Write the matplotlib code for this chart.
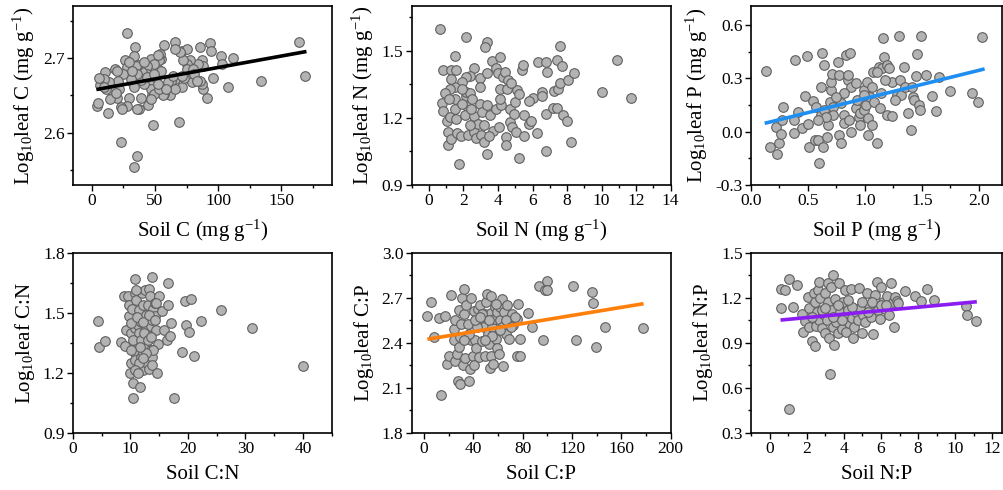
import matplotlib
matplotlib.use("Agg")
import matplotlib.pyplot as plt
import numpy as np
from matplotlib.ticker import MultipleLocator, FormatStrFormatter

plt.rcParams['font.family'] = ['Liberation Serif', 'DejaVu Serif']
plt.rcParams['mathtext.fontset'] = 'custom'
plt.rcParams['mathtext.rm'] = 'Liberation Serif'
plt.rcParams['mathtext.it'] = 'Liberation Serif:italic'
plt.rcParams['mathtext.default'] = 'regular'
plt.rcParams['axes.unicode_minus'] = False

# ---------------- data ----------------
soilC = [27.5, 34, 57.5, 65.5, 71, 75, 85.5, 93.5, 94.5, 164, 169, 133.7, 107.7, 111.8, 102.4, 103, 96, 91, 88, 87,
         86, 87, 88, 84, 77.5, 75, 72, 69.5, 77.5, 79, 71, 68.7, 65.5, 63, 61.5, 57, 55, 54, 52, 53.5,
         55, 51, 49.5, 47.5, 48, 47, 49.5, 44, 44, 46, 47, 44.5, 41.5, 40, 39, 36.5, 35, 36, 37.5, 36,
         33.5, 32, 33, 31, 29.5, 27.5, 26, 28, 25, 23, 21.5, 20.5, 19.5, 18, 16, 14.7, 13.4, 11.5, 10.7, 9.4,
         6.7, 5.3, 4, 4.8, 12.6, 22.7, 35.5, 33, 24, 52, 56, 49.5, 53.5, 60, 64, 73, 75, 80, 81, 83,
         65.5, 41.5, 44, 47, 39, 29.5, 32, 20, 18.7, 9.4, 65.5, 49.5, 71, 58.5, 52]
leafC = [2.734, 2.715, 2.718, 2.722, 2.710, 2.713, 2.715, 2.720, 2.709, 2.722, 2.676, 2.670, 2.661, 2.700, 2.703, 2.692, 2.673, 2.647, 2.659, 2.665,
         2.670, 2.697, 2.690, 2.692, 2.697, 2.692, 2.698, 2.708, 2.672, 2.668, 2.661, 2.614, 2.672, 2.670, 2.650, 2.652, 2.699, 2.706, 2.686, 2.697,
         2.683, 2.670, 2.661, 2.650, 2.610, 2.699, 2.692, 2.690, 2.679, 2.664, 2.659, 2.637, 2.665, 2.682, 2.671, 2.691, 2.689, 2.679, 2.632, 2.632,
         2.703, 2.668, 2.661, 2.672, 2.646, 2.636, 2.697, 2.688, 2.679, 2.635, 2.659, 2.670, 2.646, 2.686, 2.656, 2.645, 2.668, 2.659, 2.682, 2.672,
         2.664, 2.673, 2.636, 2.640, 2.626, 2.587, 2.569, 2.554, 2.632, 2.704, 2.650, 2.652, 2.659, 2.668, 2.676, 2.674, 2.686, 2.685, 2.679, 2.670,
         2.713, 2.695, 2.675, 2.645, 2.647, 2.695, 2.683, 2.683, 2.654, 2.661, 2.659, 2.679, 2.676, 2.659, 2.665]
lineC_x = [3.5, 170]
lineC_y = [2.658, 2.709]

soilN = [0.66, 2.12, 3.35, 3.25, 7.6, 1.5, 0.8, 1.3, 1.55, 2.63, 2.4, 2.17, 1.9, 1.5, 1.23, 0.9, 0.75, 0.8, 1.04, 1.2,
         1.12, 1.08, 1.27, 1.5, 1.5, 1.57, 1.6, 1.74, 1.83, 2.12, 2.17, 2.2, 2.06, 2.25, 2.4, 2.5, 2.63, 2.6, 2.74, 2.82,
         2.97, 2.97, 2.93, 3.06, 3.0, 3.16, 3.2, 3.35, 3.38, 3.54, 3.69, 3.63, 3.88, 4.1, 4.02, 4.14, 3.91, 4.04, 4.2, 4.29,
         4.38, 4.57, 4.5, 4.44, 4.44, 4.67, 4.7, 4.82, 4.95, 5.0, 5.08, 5.24, 5.04, 5.24, 5.39, 5.46, 5.52, 5.52, 5.8, 5.9,
         6.03, 6.28, 6.33, 6.52, 6.56, 6.79, 6.84, 6.79, 6.75, 7.17, 7.4, 7.27, 7.4, 7.5, 7.6, 7.7, 7.75, 8.03, 8.0, 8.22,
         8.4, 10.0, 10.87, 11.72, 1.3, 1.93, 2.4, 3.35, 3.5, 1.18, 1.93, 2.44, 4.76, 5.8, 4.1]
leafN = [1.596, 1.560, 1.537, 1.516, 1.519, 1.475, 1.412, 1.412, 1.412, 1.421, 1.387, 1.384, 1.360, 1.340, 1.331, 1.310, 1.265, 1.232, 1.184, 1.203,
         1.137, 1.081, 1.107, 1.284, 1.240, 1.196, 1.132, 0.994, 1.119, 1.299, 1.316, 1.254, 1.213, 1.122, 1.313, 1.284, 1.210, 1.137, 1.110, 1.174,
         1.376, 1.340, 1.262, 1.225, 1.122, 1.090, 1.166, 1.037, 1.257, 1.215, 1.140, 1.453, 1.424, 1.472, 1.399, 1.328, 1.240, 1.159, 1.257, 1.384,
         1.404, 1.369, 1.331, 1.115, 1.081, 1.240, 1.181, 1.159, 1.218, 1.272, 1.325, 1.306, 1.137, 1.022, 1.416, 1.438, 1.213, 1.119, 1.174, 1.188,
         1.291, 1.132, 1.449, 1.316, 1.296, 1.449, 1.404, 1.218, 1.051, 1.243, 1.243, 1.321, 1.460, 1.331, 1.357, 1.431, 1.213, 1.369, 1.185, 1.090,
         1.399, 1.316, 1.457, 1.291, 1.375, 1.262, 1.166, 1.401, 1.119, 1.284, 1.328, 1.240, 1.357, 1.276, 1.284]

soilP = [0.13, 0.17, 0.23, 0.22, 0.25, 0.26, 0.28, 0.27, 0.39, 0.49, 0.47, 0.41, 0.38, 0.38, 0.45, 0.5, 0.51, 0.54, 0.56, 0.57,
         0.59, 0.6, 0.61, 0.62, 0.61, 0.63, 0.64, 0.64, 0.67, 0.68, 0.69, 0.70, 0.70, 0.71, 0.72, 0.72, 0.76, 0.77, 0.77, 0.79,
         0.79, 0.82, 0.82, 0.83, 0.85, 0.85, 0.87, 0.86, 0.88, 0.92, 0.93, 0.95, 0.96, 0.96, 0.99, 0.99, 1.01, 1.02, 1.03, 1.03,
         1.04, 1.06, 1.06, 1.07, 1.08, 1.11, 1.12, 1.13, 1.14, 1.15, 1.16, 1.17, 1.19, 1.19, 1.21, 1.24, 1.24, 1.28, 1.30, 1.31,
         1.32, 1.34, 1.35, 1.38, 1.40, 1.42, 1.43, 1.45, 1.46, 1.47, 1.49, 1.54, 1.59, 1.62, 1.65, 1.75, 1.94, 1.99, 2.03,
         1.11, 1.18, 1.26, 0.99, 0.92, 0.82, 0.75, 0.66, 0.59, 0.88, 1.41, 1.48]
leafP = [0.341, -0.084, -0.126, 0.028, -0.062, -0.013, 0.141, 0.066, 0.403, 0.426, 0.201, 0.113, 0.066, -0.006, 0.019, 0.043, -0.084, 0.174, -0.047, 0.141,
         -0.047, -0.174, 0.250, 0.441, 0.094, -0.084, 0.375, 0.122, -0.028, 0.038, 0.169, 0.235, 0.281, 0.325, 0.141, 0.094, 0.394, 0.319, -0.019, -0.066,
         0.159, 0.094, 0.047, 0.432, 0.291, 0.319, 0.441, 0.066, 0.250, 0.131, 0.178, 0.084, 0.038, 0.103, 0.122, 0.235, 0.150, 0.281, 0.075, -0.019,
         0.197, 0.253, 0.038, 0.338, 0.169, -0.062, 0.366, 0.131, 0.216, 0.356, 0.525, 0.422, 0.094, 0.375, 0.356, 0.281, 0.088, 0.206, 0.538, 0.291,
         0.206, 0.366, 0.253, 0.103, 0.009, 0.197, 0.178, 0.313, 0.437, 0.150, 0.538, 0.319, 0.201, 0.118, 0.310, 0.231, 0.216, 0.169, 0.531,
         0.338, 0.290, 0.178, 0.206, 0.272, 0.216, 0.197, 0.084, 0.066, 0.000, 0.253, 0.122]
lineP_x = [0.12, 2.05]
lineP_y = [0.047, 0.353]

soilCN = [4.4, 4.5, 5.5, 8.3, 8.9, 9.1, 9.2, 9.5, 9.7, 9.8, 9.9, 10.1, 10.1, 10.3, 10.4, 10.5, 10.7, 10.7, 10.7, 10.7,
          10.8, 10.97, 11.1, 11.25, 11.4, 11.5, 11.5, 11.7, 11.8, 11.8, 12.0, 12.1, 12.1, 12.2, 12.4, 12.6, 12.7, 12.7, 12.8, 13.0,
          13.1, 13.2, 13.3, 13.4, 13.6, 13.6, 13.8, 13.8, 13.8, 13.8, 14.0, 14.2, 14.3, 14.5, 14.6, 14.8, 14.9, 15.5, 15.9, 16.3,
          16.5, 16.6, 16.9, 17.1, 17.5, 19.0, 19.5, 19.6, 20.2, 20.5, 21.0, 22.2, 25.7, 31.1, 40.0,
          10.1, 10.4, 11.1, 11.4, 11.8, 12.2, 12.4, 13.0, 13.2, 13.6, 13.9, 14.2, 14.5, 12.7, 12.1, 10.7, 11.25, 11.7, 10.1, 10.97]
leafCN = [1.46, 1.33, 1.36, 1.355, 1.583, 1.333, 1.413, 1.583, 1.538, 1.483, 1.197, 1.247, 1.397, 1.518, 1.15, 1.072, 1.667, 1.6, 1.297, 1.263,
          1.422, 1.563, 1.347, 1.438, 1.513, 1.222, 1.397, 1.13, 1.28, 1.455, 1.597, 1.538, 1.213, 1.30, 1.338, 1.613, 1.488, 1.422, 1.247, 1.538,
          1.388, 1.217, 1.617, 1.583, 1.433, 1.313, 1.677, 1.463, 1.277, 1.238, 1.517, 1.55, 1.483, 1.413, 1.20, 1.343, 1.583, 1.51, 1.413, 1.363,
          1.538, 1.65, 1.383, 1.447, 1.072, 1.305, 1.56, 1.438, 1.405, 1.568, 1.283, 1.458, 1.513, 1.422, 1.235,
          1.447, 1.363, 1.48, 1.247, 1.363, 1.455, 1.397, 1.363, 1.488, 1.38, 1.313, 1.463, 1.547, 1.297, 1.272, 1.213, 1.197, 1.33, 1.313, 1.613]

soilCP = [2.7, 5.4, 8.2, 12.5, 13.6, 17.1, 18.5, 20.4, 21.8, 23.9, 24.5, 24.8, 25.3, 26.7, 27.5, 28.0, 28.6, 29.4, 30.2, 30.7,
          31.3, 32.1, 32.1, 33.5, 34.3, 35.6, 36.2, 37.6, 38.4, 38.4, 39.5, 40.3, 40.3, 41.6, 42.4, 43.8, 44.4, 45.7, 46.5, 47.1,
          48.4, 49.8, 49.8, 50.3, 51.2, 52.0, 52.5, 53.1, 53.9, 53.9, 54.7, 55.2, 55.8, 56.6, 57.4, 58.0, 59.3, 59.3, 60.7, 61.2,
          62.0, 62.9, 63.4, 63.9, 64.8, 66.1, 67.5, 68.8, 69.4, 71.0, 72.1, 75.6, 76.5, 77.6, 77.6, 75.6, 84.4, 87.3, 93.3, 96.1,
          98.2, 99.3, 100.1, 120.5, 123.3, 136.3, 136.9, 139.6, 146.4, 177.7,
          29.4, 43.0, 47.1, 58.0, 62.0, 66.1, 70.2, 74.1, 52.5, 41.6, 36.2, 32.1, 45.7, 55.2, 49.8]
leafCP = [2.575, 2.672, 2.441, 2.566, 2.053, 2.575, 2.258, 2.314, 2.716, 2.415, 2.493, 2.276, 2.549, 2.325, 2.142, 2.616, 2.37, 2.124, 2.527, 2.70,
          2.254, 2.761, 2.589, 2.298, 2.649, 2.527, 2.142, 2.225, 2.70, 2.415, 2.314, 2.254, 2.611, 2.415, 2.365, 2.627, 2.303, 2.649, 2.549, 2.41,
          2.504, 2.589, 2.314, 2.672, 2.723, 2.459, 2.392, 2.231, 2.709, 2.314, 2.598, 2.508, 2.258, 2.56, 2.638, 2.426, 2.605, 2.365, 2.325, 2.553,
          2.638, 2.508, 2.694, 2.247, 2.605, 2.459, 2.649, 2.426, 2.566, 2.593, 2.515, 2.314, 2.656, 2.314, 2.426, 2.56, 2.598, 2.508, 2.777, 2.419,
          2.754, 2.812, 2.75, 2.777, 2.421, 2.739, 2.665, 2.374, 2.508, 2.499,
          2.437, 2.504, 2.593, 2.66, 2.485, 2.549, 2.504, 2.571, 2.549, 2.549, 2.459, 2.415, 2.571, 2.448, 2.419]
lineCP_x = [2.7, 178]
lineCP_y = [2.423, 2.66]

soilNP = [0.64, 0.64, 0.82, 1.07, 1.07, 1.25, 1.48, 1.75, 1.78, 1.93, 2.07, 2.1, 2.14, 2.28, 2.37, 2.42, 2.42, 2.5, 2.55, 2.6,
          2.64, 2.67, 2.73, 2.82, 2.9, 2.96, 2.99, 3.08, 3.14, 3.17, 3.21, 3.26, 3.32, 3.35, 3.4, 3.44, 3.49, 3.53, 3.56, 3.67,
          3.74, 3.8, 3.89, 3.97, 4.03, 4.06, 4.1, 4.2, 4.28, 4.39, 4.42, 4.51, 4.56, 4.63, 4.74, 4.81, 4.87, 4.96, 5.04, 5.13,
          5.22, 5.35, 5.45, 5.58, 5.67, 5.76, 5.85, 5.94, 6.02, 6.11, 6.2, 6.35, 6.42, 6.56, 6.65, 6.7, 6.77, 6.88, 7.27, 7.84,
          8.16, 8.48, 8.84, 10.6, 10.62, 11.1,
          2.82, 3.44, 3.89, 4.42, 4.96, 5.49, 6.02, 3.71, 2.99, 2.28, 4.24, 5.31, 6.29, 6.92]
leafNP = [1.256, 1.129, 1.251, 1.322, 0.456, 1.14, 1.284, 1.091, 0.973, 1.047, 1.202, 1.129, 1.007, 0.913, 1.229, 1.173, 0.878, 1.011, 1.107, 1.251,
          1.307, 1.051, 1.196, 0.996, 1.091, 1.229, 0.962, 1.051, 1.173, 1.30, 0.929, 0.691, 1.273, 1.118, 1.007, 1.351, 0.884, 1.189, 1.04, 0.962,
          1.30, 1.107, 0.989, 1.173, 1.069, 1.251, 0.973, 1.118, 1.029, 1.256, 1.062, 0.929, 1.002, 1.107, 1.051, 1.262, 1.129, 0.967, 1.084, 1.04,
          1.233, 1.151, 1.069, 0.958, 1.218, 1.307, 1.118, 1.056, 1.273, 1.173, 1.122, 1.211, 1.084, 1.30, 1.173, 1.002, 1.207, 1.18, 1.247, 1.211,
          1.18, 1.256, 1.184, 1.144, 1.084, 1.047,
          1.118, 1.069, 1.051, 1.14, 1.173, 1.173, 1.151, 1.151, 1.129, 1.073, 1.184, 1.107, 1.151, 1.162]
lineNP_x = [0.59, 11.16]
lineNP_y = [1.051, 1.173]

# ---------------- figure ----------------
fig = plt.figure(figsize=(10.04, 4.90), dpi=100)
W, H = 1004, 490

def px_axes(x0, x1, ytop, ybot):
    return fig.add_axes([x0 / W, 1 - ybot / H, (x1 - x0) / W, (ybot - ytop) / H])

face = '#b3b3b3'
edge = '#5f5f5f'

panels = [
    dict(box=(73, 331.7, 6, 185), x=soilC, y=leafC, xlim=(-15, 190), ylim=(2.53, 2.77),
         xmaj=50, xmin=25, ymaj=0.1, ymin=0.05, xfmt='%d', yfmt='%.1f',
         xlabel='Soil C (mg g$^{-1}$)', ylabel='Log$_{10}$leaf C (mg g$^{-1}$)',
         line=(lineC_x, lineC_y, '#000000')),
    dict(box=(411.7, 670.7, 6, 185), x=soilN, y=leafN, xlim=(-1, 14), ylim=(0.9, 1.7),
         xmaj=2, xmin=1, ymaj=0.3, ymin=0.15, xfmt='%d', yfmt='%.1f',
         xlabel='Soil N (mg g$^{-1}$)', ylabel='Log$_{10}$leaf N (mg g$^{-1}$)', line=None),
    dict(box=(751, 1001.7, 6, 185), x=soilP, y=leafP, xlim=(0, 2.2), ylim=(-0.3, 0.707),
         xmaj=0.5, xmin=0.25, ymaj=0.3, ymin=0.15, xfmt='%.1f', yfmt='%.1f',
         xlabel='Soil P (mg g$^{-1}$)', ylabel='Log$_{10}$leaf P (mg g$^{-1}$)',
         line=(lineP_x, lineP_y, '#1e8ff0')),
    dict(box=(73, 331.7, 252.7, 432.7), x=soilCN, y=leafCN, xlim=(0, 45), ylim=(0.9, 1.8),
         xmaj=10, xmin=5, ymaj=0.3, ymin=0.15, xfmt='%d', yfmt='%.1f',
         xlabel='Soil C:N', ylabel='Log$_{10}$leaf C:N', line=None),
    dict(box=(411.7, 670.7, 252.7, 432.7), x=soilCP, y=leafCP, xlim=(-10, 200), ylim=(1.8, 3.0),
         xmaj=40, xmin=20, ymaj=0.3, ymin=0.15, xfmt='%d', yfmt='%.1f',
         xlabel='Soil C:P', ylabel='Log$_{10}$leaf C:P',
         line=(lineCP_x, lineCP_y, '#ff7f0a')),
    dict(box=(751, 1001.7, 252.7, 432.7), x=soilNP, y=leafNP, xlim=(-1, 12.5), ylim=(0.3, 1.5),
         xmaj=2, xmin=1, ymaj=0.3, ymin=0.15, xfmt='%d', yfmt='%.1f',
         xlabel='Soil N:P', ylabel='Log$_{10}$leaf N:P',
         line=(lineNP_x, lineNP_y, '#8a1cf2')),
]

for p in panels:
    x0, x1, yt, yb = p['box']
    ax = px_axes(x0, x1, yt, yb)
    ax.scatter(p['x'], p['y'], s=48, facecolor=face, edgecolor=edge, linewidth=0.8, zorder=3)
    if p['line'] is not None:
        lx, ly, c = p['line']
        ax.plot(lx, ly, color=c, lw=2.6, solid_capstyle='butt', zorder=4)
    ax.set_xlim(*p['xlim'])
    ax.set_ylim(*p['ylim'])
    ax.xaxis.set_major_locator(MultipleLocator(p['xmaj']))
    ax.xaxis.set_minor_locator(MultipleLocator(p['xmin']))
    ax.yaxis.set_major_locator(MultipleLocator(p['ymaj']))
    ax.yaxis.set_minor_locator(MultipleLocator(p['ymin']))
    ax.xaxis.set_major_formatter(FormatStrFormatter(p['xfmt']))
    ax.yaxis.set_major_formatter(FormatStrFormatter(p['yfmt']))
    ax.tick_params(which='both', direction='out', top=False, right=False, labelsize=12.5, width=1.0, pad=2)
    ax.tick_params(which='major', length=4)
    ax.tick_params(which='minor', length=2.5)
    for s in ax.spines.values():
        s.set_linewidth(1.2)
    ax.set_xlabel(p['xlabel'], fontsize=15, labelpad=6)
    ax.set_ylabel(p['ylabel'], fontsize=15, labelpad=4)

fig.savefig('out.png', dpi=100)
